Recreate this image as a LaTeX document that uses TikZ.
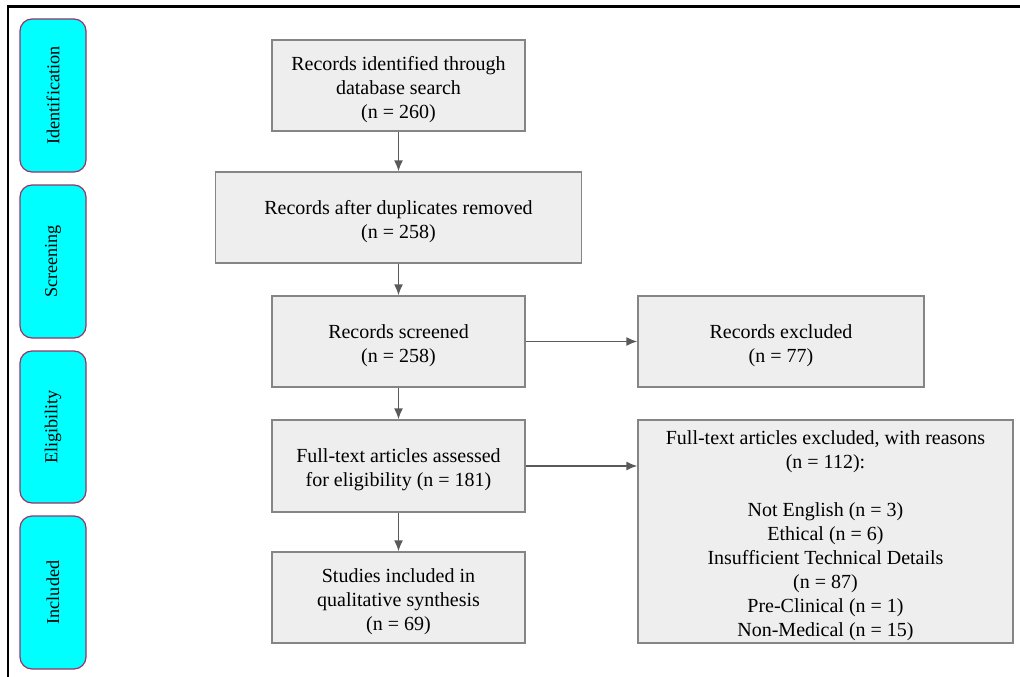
\documentclass[tikz,border=0pt]{standalone}
\usepackage{fontspec}
\setmainfont{Liberation Serif}
\usetikzlibrary{arrows.meta}
\definecolor{boxfill}{HTML}{EEEEEE}
\definecolor{boxline}{HTML}{858585}
\definecolor{arrowc}{HTML}{5A5A5A}
\definecolor{bandline}{HTML}{993366}
\definecolor{bandfill}{HTML}{00FFFF}
\newcommand{\topgap}{\rule{0pt}{22pt}}
\tikzset{
  stage/.style={draw=boxline, fill=boxfill, line width=1.4pt, align=center,
    font=\fontsize{20}{24}\selectfont, inner sep=0pt},
  band/.style={draw=bandline, fill=bandfill, line width=1.2pt, rounded corners=12pt,
    minimum width=66pt, inner sep=0pt},
  bandtext/.style={rotate=90, font=\fontsize{18.2}{22}\selectfont},
  flow/.style={draw=arrowc, line width=1.4pt, -{Latex[length=11pt,width=9pt]}}
}
\begin{document}
\begin{tikzpicture}[x=1pt,y=-1pt]
\useasboundingbox (0,0) rectangle (1020,677);
\draw[line width=2.5pt] (8,677) -- (8,6.5) -- (1020,6.5);
% phase bands
\node[band, minimum height=153pt] (pid) at (53,95.5) {};
\node[bandtext] (tid) at (pid.center) {Identification};
\node[band, minimum height=153pt] (psc) at (53,261.5) {};
\node[bandtext] (tsc) at (psc.center) {Screening};
\node[band, minimum height=152pt] (pel) at (53,427) {};
\node[bandtext] (tel) at (pel.center) {Eligibility};
\node[band, minimum height=153pt] (pin) at (53,592.5) {};
\node[bandtext] (tin) at (pin.center) {Included};
% main boxes
\node[stage, minimum width=253pt, minimum height=91pt] (b1) at (398.5,85.5)
  {\topgap Records identified through\\database search\\(n = 260)};
\node[stage, minimum width=366pt, minimum height=91pt] (b2) at (398.5,217.5)
  {\topgap Records after duplicates removed\\(n = 258)};
\node[stage, minimum width=253pt, minimum height=91pt] (b3) at (398.5,341.5)
  {\topgap Records screened\\(n = 258)};
\node[stage, minimum width=253pt, minimum height=92pt] (b4) at (398.5,466)
  {\topgap Full-text articles assessed\\for eligibility (n = 181)};
\node[stage, minimum width=253pt, minimum height=91pt] (b5) at (398.5,597.5)
  {\topgap Studies included in\\qualitative synthesis\\(n = 69)};
\node[stage, minimum width=286pt, minimum height=91pt] (r1) at (781,341.5)
  {\topgap Records excluded\\(n = 77)};
\node[stage, minimum width=375pt, minimum height=223pt] (r2) at (825.5,531.5)
  {\topgap Full-text articles excluded, with reasons\\(n = 112):\\[24pt]Not English (n = 3)\\Ethical (n = 6)\\Insufficient Technical Details\\(n = 87)\\Pre-Clinical (n = 1)\\Non-Medical (n = 15)};
% connectors
\draw[flow] (b1.south) -- (b2.north);
\draw[flow] (b2.south) -- (b3.north);
\draw[flow] (b3.south) -- (b4.north);
\draw[flow] (b4.south) -- (b5.north);
\draw[flow] (b3.east) -- (r1.west);
\draw[flow] (b4.east) -- (b4.east -| r2.west);
\end{tikzpicture}
\end{document}
